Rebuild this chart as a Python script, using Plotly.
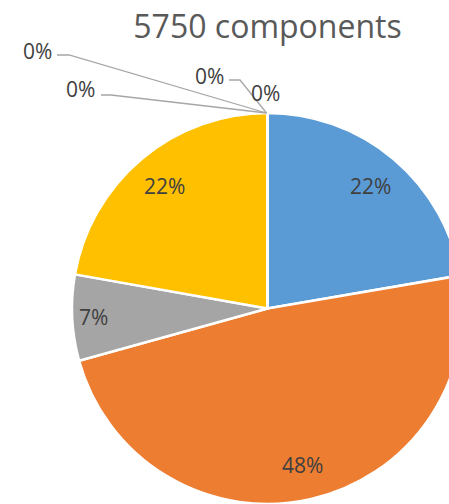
import math
import plotly.graph_objects as go

# Component breakdown (counts), drawn clockwise from 12 o'clock
categories = ["Group A", "Group B", "Group C", "Group D", "Group E", "Group F", "Group G", "Group H"]
counts = [1282, 2783, 408, 1277, 0, 0, 0, 0]
colors = ["#5B9BD5", "#ED7D31", "#A5A5A5", "#FFC000", "#4472C4", "#70AD47", "#264478", "#9E480E"]
title_text = "5750 components"

total = sum(counts)
pct_labels = [f"{round(100 * c / total)}%" for c in counts]

# Figure geometry (pixels)
W, H = 464, 504
L, T = 72, 113
PW = PH = 391
CX, CY = L + PW / 2, T + PH / 2
RAD = PW / 2


def to_paper(px, py):
    return (px - L) / PW, 1 - (py - T) / PH


fig = go.Figure(
    go.Pie(
        labels=categories,
        values=counts,
        sort=False,
        direction="clockwise",
        rotation=0,
        marker=dict(colors=colors, line=dict(color="white", width=2.5)),
        textinfo="none",
        hoverinfo="label+value+percent",
        showlegend=False,
        domain=dict(x=[0, 1], y=[0, 1]),
    )
)

label_font = dict(family="Open Sans", size=21, color="#404040")

annotations = []
shapes = []

# Labels placed inside the visible slices, along each slice's bisector
cum = 0
edge_points = []
for c, lab in zip(counts, pct_labels):
    start = cum / total * 2 * math.pi
    mid = (cum + c / 2) / total * 2 * math.pi
    cum += c
    edge_points.append((CX + RAD * math.sin(start), CY - RAD * math.cos(start)))
    if c == 0:
        continue
    frac = 0.89 if c / total < 0.1 else 0.82
    px = CX + frac * RAD * math.sin(mid)
    py = CY - frac * RAD * math.cos(mid)
    x, y = to_paper(px, py)
    annotations.append(dict(x=x, y=y, xref="paper", yref="paper", text=lab,
                            showarrow=False, font=label_font,
                            xanchor="center", yanchor="middle"))

# Zero-share slices: labels pulled outside with elbow leader lines
outside_spots = [
    # (text centre, leader start, elbow) in pixels; None = no leader line
    ((37.5, 51), (57, 55), (69, 55)),
    ((80, 89), (101, 95), (111, 95)),
    ((209, 76), (229, 80), (240, 80)),
    ((265, 93), None, None),
]
zero_idx = [i for i, c in enumerate(counts) if c == 0]
for i, (txt, start, elbow) in zip(zero_idx, outside_spots):
    x, y = to_paper(*txt)
    annotations.append(dict(x=x, y=y, xref="paper", yref="paper", text=pct_labels[i],
                            showarrow=False, font=label_font,
                            xanchor="center", yanchor="middle"))
    if start is not None:
        tx, ty = edge_points[i]
        pts = [to_paper(*start), to_paper(*elbow), to_paper(tx - 1, ty)]
        path = "M {} {} L {} {} L {} {}".format(*[v for p in pts for v in p])
        shapes.append(dict(type="path", path=path, xref="paper", yref="paper",
                           line=dict(color="#A6A6A6", width=1.3)))

fig.update_layout(
    width=W,
    height=H,
    margin=dict(l=L, r=W - L - PW, t=T, b=H - T - PH),
    paper_bgcolor="white",
    plot_bgcolor="white",
    title=dict(text=title_text, x=0.5, xref="paper", xanchor="center",
               y=1 - 27 / H, yref="container", yanchor="middle",
               font=dict(family="Open Sans", size=32, color="#595959")),
    annotations=annotations,
    shapes=shapes,
)

fig.write_html(
    "out.html",
    config={"displayModeBar": False},
    post_script="document.documentElement.style.overflow='hidden';document.body.style.overflow='hidden';document.body.style.margin='0';",
)
